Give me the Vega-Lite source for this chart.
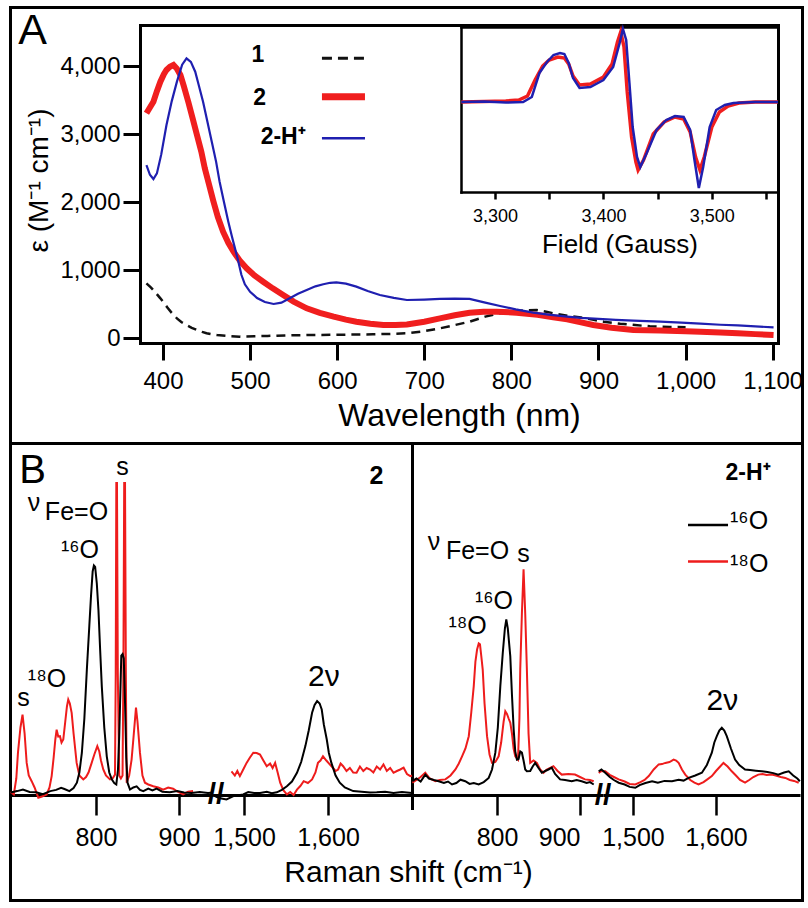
{
"$schema": "https://vega.github.io/schema/vega-lite/v6.json",
"width": 808, "height": 908, "autosize": "none", "padding": 0, "background": "#ffffff",
"config": {
  "view": {"stroke": null},
  "axis": {"grid": false, "labelFont": "Liberation Sans", "titleFont": "Liberation Sans", "labelColor": "#000000", "titleColor": "#000000", "domainColor": "#000000", "tickColor": "#000000", "titleFontWeight": "normal", "labelOverlap": false, "labelFlush": false},
  "text": {"font": "Liberation Sans", "color": "#000000"}
},
"datasets": {
  "uv1": [{"nm":381,"eps":804},{"nm":386,"eps":745},{"nm":390,"eps":690},{"nm":397,"eps":583},{"nm":405,"eps":450},{"nm":410,"eps":370},{"nm":416,"eps":289},{"nm":421,"eps":235},{"nm":427,"eps":190},{"nm":433,"eps":150},{"nm":439,"eps":118},{"nm":445,"eps":90},{"nm":450,"eps":70},{"nm":456,"eps":55},{"nm":462,"eps":44},{"nm":475,"eps":30},{"nm":488,"eps":20},{"nm":505,"eps":25},{"nm":520,"eps":30},{"nm":540,"eps":38},{"nm":565,"eps":44},{"nm":600,"eps":48},{"nm":641,"eps":54},{"nm":660,"eps":60},{"nm":680,"eps":69},{"nm":700,"eps":100},{"nm":718,"eps":142},{"nm":735,"eps":190},{"nm":752,"eps":240},{"nm":770,"eps":314},{"nm":785,"eps":360},{"nm":800,"eps":390},{"nm":815,"eps":405},{"nm":829,"eps":412},{"nm":840,"eps":385},{"nm":852,"eps":353},{"nm":866,"eps":325},{"nm":880,"eps":300},{"nm":893,"eps":270},{"nm":906,"eps":240},{"nm":925,"eps":210},{"nm":942,"eps":190},{"nm":959,"eps":172},{"nm":982,"eps":162},{"nm":1000,"eps":158}],
  "uv2": [{"nm":381,"eps":3304},{"nm":385,"eps":3390},{"nm":389,"eps":3475},{"nm":393,"eps":3630},{"nm":397,"eps":3770},{"nm":401,"eps":3880},{"nm":404,"eps":3941},{"nm":408,"eps":3990},{"nm":412,"eps":4015},{"nm":416,"eps":3960},{"nm":420,"eps":3868},{"nm":424,"eps":3700},{"nm":429,"eps":3475},{"nm":434,"eps":3230},{"nm":439,"eps":2985},{"nm":444,"eps":2740},{"nm":448,"eps":2495},{"nm":453,"eps":2250},{"nm":458,"eps":2005},{"nm":463,"eps":1780},{"nm":469,"eps":1563},{"nm":475,"eps":1400},{"nm":481,"eps":1269},{"nm":488,"eps":1140},{"nm":496,"eps":1025},{"nm":505,"eps":920},{"nm":515,"eps":828},{"nm":526,"eps":730},{"nm":538,"eps":632},{"nm":550,"eps":535},{"nm":565,"eps":436},{"nm":580,"eps":370},{"nm":596,"eps":314},{"nm":610,"eps":270},{"nm":622,"eps":240},{"nm":638,"eps":210},{"nm":653,"eps":191},{"nm":667,"eps":192},{"nm":680,"eps":200},{"nm":700,"eps":240},{"nm":718,"eps":289},{"nm":735,"eps":335},{"nm":752,"eps":370},{"nm":768,"eps":385},{"nm":783,"eps":387},{"nm":806,"eps":372},{"nm":830,"eps":340},{"nm":848,"eps":305},{"nm":864,"eps":275},{"nm":880,"eps":230},{"nm":894,"eps":191},{"nm":915,"eps":150},{"nm":940,"eps":118},{"nm":971,"eps":110},{"nm":1000,"eps":100},{"nm":1017,"eps":93},{"nm":1040,"eps":80},{"nm":1060,"eps":70},{"nm":1080,"eps":57},{"nm":1101,"eps":44}],
  "uv2h": [{"nm":381,"eps":2544},{"nm":385,"eps":2400},{"nm":389,"eps":2338},{"nm":393,"eps":2420},{"nm":398,"eps":2700},{"nm":404,"eps":3132},{"nm":410,"eps":3480},{"nm":416,"eps":3770},{"nm":422,"eps":4020},{"nm":427,"eps":4113},{"nm":432,"eps":4060},{"nm":437,"eps":3916},{"nm":441,"eps":3720},{"nm":446,"eps":3475},{"nm":451,"eps":3180},{"nm":456,"eps":2887},{"nm":461,"eps":2590},{"nm":465,"eps":2299},{"nm":470,"eps":2000},{"nm":475,"eps":1710},{"nm":479,"eps":1500},{"nm":483,"eps":1300},{"nm":486,"eps":1150},{"nm":490,"eps":930},{"nm":494,"eps":790},{"nm":500,"eps":680},{"nm":508,"eps":588},{"nm":517,"eps":530},{"nm":527,"eps":500},{"nm":536,"eps":520},{"nm":546,"eps":588},{"nm":555,"eps":650},{"nm":565,"eps":706},{"nm":575,"eps":760},{"nm":584,"eps":790},{"nm":592,"eps":812},{"nm":599,"eps":819},{"nm":610,"eps":800},{"nm":622,"eps":755},{"nm":635,"eps":690},{"nm":649,"eps":632},{"nm":665,"eps":590},{"nm":680,"eps":559},{"nm":700,"eps":565},{"nm":718,"eps":574},{"nm":735,"eps":580},{"nm":752,"eps":574},{"nm":770,"eps":520},{"nm":787,"eps":471},{"nm":805,"eps":420},{"nm":825,"eps":372},{"nm":845,"eps":340},{"nm":864,"eps":314},{"nm":880,"eps":295},{"nm":900,"eps":280},{"nm":920,"eps":268},{"nm":940,"eps":255},{"nm":971,"eps":240},{"nm":995,"eps":225},{"nm":1017,"eps":210},{"nm":1040,"eps":195},{"nm":1060,"eps":185},{"nm":1080,"eps":170},{"nm":1101,"eps":157}],
  "epr_blue": [{"gauss":3269,"signal":0},{"gauss":3290,"signal":0.5},{"gauss":3310,"signal":-0.5},{"gauss":3326,"signal":0},{"gauss":3334,"signal":5},{"gauss":3341,"signal":29},{"gauss":3348,"signal":40},{"gauss":3354,"signal":47},{"gauss":3360,"signal":49},{"gauss":3364,"signal":48},{"gauss":3368,"signal":39},{"gauss":3372,"signal":24},{"gauss":3378,"signal":14},{"gauss":3388,"signal":15},{"gauss":3400,"signal":22},{"gauss":3409,"signal":35},{"gauss":3415,"signal":59},{"gauss":3418,"signal":73},{"gauss":3421,"signal":62},{"gauss":3424,"signal":19},{"gauss":3427,"signal":-25},{"gauss":3431,"signal":-55},{"gauss":3434,"signal":-65},{"gauss":3440,"signal":-51},{"gauss":3449,"signal":-28},{"gauss":3458,"signal":-18},{"gauss":3466,"signal":-14},{"gauss":3474,"signal":-15},{"gauss":3480,"signal":-28},{"gauss":3484,"signal":-58},{"gauss":3488,"signal":-86},{"gauss":3492,"signal":-65},{"gauss":3498,"signal":-25},{"gauss":3504,"signal":-8},{"gauss":3512,"signal":-3},{"gauss":3520,"signal":-1},{"gauss":3540,"signal":0},{"gauss":3561,"signal":0}],
  "epr_red": [{"gauss":3269,"signal":0},{"gauss":3290,"signal":0.5},{"gauss":3310,"signal":1},{"gauss":3322,"signal":2},{"gauss":3330,"signal":6},{"gauss":3337,"signal":22},{"gauss":3344,"signal":36},{"gauss":3350,"signal":42},{"gauss":3358,"signal":45},{"gauss":3364,"signal":44},{"gauss":3368,"signal":38},{"gauss":3372,"signal":26},{"gauss":3378,"signal":17},{"gauss":3388,"signal":18},{"gauss":3400,"signal":25},{"gauss":3408,"signal":38},{"gauss":3413,"signal":60},{"gauss":3416,"signal":70},{"gauss":3419,"signal":55},{"gauss":3422,"signal":10},{"gauss":3426,"signal":-35},{"gauss":3430,"signal":-60},{"gauss":3432,"signal":-68},{"gauss":3437,"signal":-58},{"gauss":3446,"signal":-32},{"gauss":3456,"signal":-20},{"gauss":3466,"signal":-15},{"gauss":3474,"signal":-17},{"gauss":3480,"signal":-30},{"gauss":3485,"signal":-55},{"gauss":3489,"signal":-68},{"gauss":3493,"signal":-55},{"gauss":3500,"signal":-25},{"gauss":3507,"signal":-10},{"gauss":3515,"signal":-4},{"gauss":3525,"signal":-1},{"gauss":3540,"signal":0},{"gauss":3561,"signal":0}],
  "b2_16_low": [{"shift":697,"intensity":0.3},{"shift":705,"intensity":0.8},{"shift":712,"intensity":1.3},{"shift":720,"intensity":0.5},{"shift":728,"intensity":0.4},{"shift":736,"intensity":-0.2},{"shift":745,"intensity":0.8},{"shift":752,"intensity":1.2},{"shift":758,"intensity":1.9},{"shift":762,"intensity":1.5},{"shift":768,"intensity":0.8},{"shift":773,"intensity":1.8},{"shift":777,"intensity":3.6},{"shift":780,"intensity":7},{"shift":783,"intensity":13.6},{"shift":786,"intensity":25},{"shift":789,"intensity":41.3},{"shift":792,"intensity":56},{"shift":794,"intensity":65.8},{"shift":796,"intensity":74},{"shift":797.5,"intensity":76},{"shift":799,"intensity":75.5},{"shift":801,"intensity":70},{"shift":803,"intensity":61},{"shift":805,"intensity":48},{"shift":807,"intensity":35.8},{"shift":810,"intensity":22},{"shift":813,"intensity":12.4},{"shift":816,"intensity":7},{"shift":819,"intensity":4.7},{"shift":822,"intensity":3.5},{"shift":824.5,"intensity":3},{"shift":826.5,"intensity":8},{"shift":828,"intensity":19.1},{"shift":829.5,"intensity":35},{"shift":830.5,"intensity":46},{"shift":832,"intensity":46.5},{"shift":833.5,"intensity":45},{"shift":835,"intensity":30.2},{"shift":836.5,"intensity":12},{"shift":838,"intensity":3.6},{"shift":841,"intensity":1.3},{"shift":845,"intensity":2},{"shift":849,"intensity":2.4},{"shift":853,"intensity":1.2},{"shift":857,"intensity":0.8},{"shift":863,"intensity":1.6},{"shift":868,"intensity":1},{"shift":873,"intensity":1.6},{"shift":880,"intensity":0.6},{"shift":889,"intensity":0.4},{"shift":898,"intensity":0.8},{"shift":906,"intensity":0.3},{"shift":915,"intensity":0.2},{"shift":925,"intensity":0.5},{"shift":935,"intensity":0.2},{"shift":941,"intensity":0.3}],
  "b2_18_low": [{"shift":697,"intensity":0.5},{"shift":701,"intensity":-0.3},{"shift":704,"intensity":5},{"shift":706,"intensity":13.6},{"shift":709,"intensity":22},{"shift":711.5,"intensity":26.3},{"shift":714,"intensity":20},{"shift":716.5,"intensity":10.2},{"shift":719,"intensity":6},{"shift":722.5,"intensity":4.1},{"shift":726,"intensity":2},{"shift":730.5,"intensity":-1.4},{"shift":735,"intensity":-1},{"shift":740.6,"intensity":-0.3},{"shift":744,"intensity":2},{"shift":746.6,"intensity":5.8},{"shift":749,"intensity":12},{"shift":751,"intensity":18},{"shift":752.6,"intensity":21.3},{"shift":754.5,"intensity":19},{"shift":756.6,"intensity":19.1},{"shift":758.5,"intensity":17},{"shift":760.6,"intensity":18},{"shift":763,"intensity":24},{"shift":765,"intensity":29},{"shift":766.6,"intensity":31.3},{"shift":768.5,"intensity":30},{"shift":770.7,"intensity":26.9},{"shift":773,"intensity":20},{"shift":776.7,"intensity":10.2},{"shift":780,"intensity":6},{"shift":784.7,"intensity":4.7},{"shift":788,"intensity":5.5},{"shift":791,"intensity":7},{"shift":794.8,"intensity":10.2},{"shift":798,"intensity":13},{"shift":801.6,"intensity":15.8},{"shift":804,"intensity":14},{"shift":806,"intensity":11},{"shift":808.8,"intensity":8},{"shift":812,"intensity":6},{"shift":816.9,"intensity":4.7},{"shift":820,"intensity":5},{"shift":822.9,"intensity":6.3},{"shift":823.8,"intensity":40},{"shift":824.5,"intensity":103.5},{"shift":825.3,"intensity":103.5},{"shift":826.3,"intensity":40},{"shift":828,"intensity":6},{"shift":830,"intensity":5},{"shift":832,"intensity":6},{"shift":833,"intensity":40},{"shift":834,"intensity":103.5},{"shift":835,"intensity":103.5},{"shift":836,"intensity":40},{"shift":837,"intensity":3.6},{"shift":840,"intensity":6},{"shift":842.9,"intensity":11.3},{"shift":845,"intensity":18},{"shift":848.2,"intensity":28.6},{"shift":850,"intensity":24},{"shift":853,"intensity":13.6},{"shift":856,"intensity":6},{"shift":859,"intensity":3.6},{"shift":863,"intensity":3},{"shift":869,"intensity":2.4},{"shift":875,"intensity":2},{"shift":881,"intensity":1.3},{"shift":887,"intensity":2},{"shift":893,"intensity":1.6},{"shift":899,"intensity":0.5},{"shift":905,"intensity":-0.3},{"shift":911,"intensity":0.6},{"shift":917,"intensity":0.8}],
  "b2_16_high": [{"shift":1463,"intensity":-0.5},{"shift":1470,"intensity":-1.5},{"shift":1479,"intensity":-2},{"shift":1488,"intensity":-0.8},{"shift":1499,"intensity":-0.3},{"shift":1505,"intensity":0.5},{"shift":1512,"intensity":0.2},{"shift":1519,"intensity":0.2},{"shift":1527,"intensity":0.6},{"shift":1533,"intensity":0.1},{"shift":1539,"intensity":0.4},{"shift":1545,"intensity":1.2},{"shift":1551,"intensity":2.4},{"shift":1557,"intensity":4},{"shift":1563,"intensity":6.9},{"shift":1568,"intensity":10.5},{"shift":1573,"intensity":15.8},{"shift":1577,"intensity":21},{"shift":1581,"intensity":26.9},{"shift":1584,"intensity":29.5},{"shift":1587,"intensity":30.8},{"shift":1590,"intensity":30},{"shift":1592.5,"intensity":28},{"shift":1595,"intensity":23},{"shift":1598.5,"intensity":18},{"shift":1601,"intensity":13.5},{"shift":1604,"intensity":10.2},{"shift":1609,"intensity":6},{"shift":1614,"intensity":3.6},{"shift":1620,"intensity":2},{"shift":1630,"intensity":0.8},{"shift":1640,"intensity":0.6},{"shift":1650,"intensity":0.3},{"shift":1658,"intensity":0.4},{"shift":1668,"intensity":0.6},{"shift":1678,"intensity":0.2},{"shift":1688,"intensity":0.5},{"shift":1700,"intensity":0.2}],
  "b2_18_high": [{"shift":1485,"intensity":7.4},{"shift":1489,"intensity":6},{"shift":1492,"intensity":7.5},{"shift":1495,"intensity":5.8},{"shift":1499,"intensity":8},{"shift":1503,"intensity":10.2},{"shift":1507,"intensity":12},{"shift":1511,"intensity":13.6},{"shift":1515,"intensity":13.5},{"shift":1519,"intensity":13},{"shift":1523,"intensity":11},{"shift":1527,"intensity":9.1},{"shift":1531,"intensity":10},{"shift":1534,"intensity":8.5},{"shift":1537,"intensity":10.2},{"shift":1540,"intensity":7},{"shift":1543,"intensity":3.6},{"shift":1547,"intensity":1},{"shift":1551,"intensity":-0.3},{"shift":1555,"intensity":0.5},{"shift":1559,"intensity":-0.5},{"shift":1563,"intensity":1.3},{"shift":1567,"intensity":2.5},{"shift":1571,"intensity":4.1},{"shift":1576,"intensity":3.5},{"shift":1581,"intensity":4.7},{"shift":1585,"intensity":7},{"shift":1588,"intensity":10.2},{"shift":1591,"intensity":11},{"shift":1594,"intensity":12.4},{"shift":1598,"intensity":11},{"shift":1602,"intensity":9.7},{"shift":1606,"intensity":8.5},{"shift":1609,"intensity":7.5},{"shift":1612,"intensity":8},{"shift":1615,"intensity":10},{"shift":1618,"intensity":9.1},{"shift":1622,"intensity":7.5},{"shift":1626,"intensity":8.5},{"shift":1630,"intensity":7},{"shift":1634,"intensity":6.9},{"shift":1638,"intensity":9},{"shift":1642,"intensity":7.5},{"shift":1646,"intensity":8.5},{"shift":1650,"intensity":8},{"shift":1654,"intensity":7},{"shift":1658,"intensity":9},{"shift":1662,"intensity":8},{"shift":1666,"intensity":9.7},{"shift":1670,"intensity":7.5},{"shift":1674,"intensity":8.5},{"shift":1678,"intensity":6.9},{"shift":1682,"intensity":7.5},{"shift":1686,"intensity":8},{"shift":1690,"intensity":8.6},{"shift":1694,"intensity":6.5},{"shift":1698,"intensity":5.8},{"shift":1700,"intensity":6}],
  "b2h_16_low": [{"shift":698,"intensity":4.1},{"shift":703,"intensity":5},{"shift":708,"intensity":4},{"shift":713.6,"intensity":6.3},{"shift":718,"intensity":5},{"shift":724,"intensity":4.5},{"shift":729.8,"intensity":4.1},{"shift":736,"intensity":3.5},{"shift":741,"intensity":4},{"shift":745.8,"intensity":3},{"shift":751,"intensity":3.5},{"shift":756,"intensity":4.6},{"shift":761.8,"intensity":4.1},{"shift":767,"intensity":3.2},{"shift":772,"intensity":3.5},{"shift":778,"intensity":3},{"shift":784,"intensity":3.8},{"shift":790,"intensity":5.2},{"shift":794,"intensity":8},{"shift":798,"intensity":13.6},{"shift":801,"intensity":22},{"shift":804,"intensity":35.8},{"shift":807,"intensity":47},{"shift":809.5,"intensity":55},{"shift":811.2,"intensity":58},{"shift":813,"intensity":55},{"shift":816,"intensity":45.8},{"shift":818,"intensity":33},{"shift":820.1,"intensity":21.3},{"shift":822,"intensity":14},{"shift":824,"intensity":11.3},{"shift":826,"intensity":11.5},{"shift":828,"intensity":14},{"shift":830,"intensity":13.6},{"shift":832,"intensity":11},{"shift":834,"intensity":8},{"shift":836,"intensity":7.4},{"shift":840,"intensity":7.5},{"shift":843,"intensity":9},{"shift":846,"intensity":10.2},{"shift":850,"intensity":8.5},{"shift":854,"intensity":6.9},{"shift":858,"intensity":7.5},{"shift":862,"intensity":8},{"shift":866,"intensity":8.6},{"shift":870,"intensity":6.5},{"shift":876,"intensity":4.7},{"shift":882,"intensity":4.5},{"shift":890,"intensity":4.1},{"shift":896,"intensity":4.5},{"shift":902,"intensity":4.1},{"shift":908,"intensity":3.5},{"shift":912,"intensity":3.8},{"shift":916.5,"intensity":3}],
  "b2h_18_low": [{"shift":698,"intensity":3.6},{"shift":703,"intensity":4.5},{"shift":708,"intensity":5.5},{"shift":713.6,"intensity":6.9},{"shift":719,"intensity":5},{"shift":725.8,"intensity":4.1},{"shift":731,"intensity":4.5},{"shift":737.8,"intensity":4.7},{"shift":744,"intensity":6},{"shift":749.9,"intensity":8},{"shift":754,"intensity":10},{"shift":757.9,"intensity":12.4},{"shift":762,"intensity":15},{"shift":766,"intensity":19.1},{"shift":769,"intensity":27},{"shift":772,"intensity":35.8},{"shift":774,"intensity":44},{"shift":776,"intensity":48},{"shift":778,"intensity":50},{"shift":779.5,"intensity":49.7},{"shift":781,"intensity":46},{"shift":782.8,"intensity":41.3},{"shift":785,"intensity":30},{"shift":788,"intensity":19.1},{"shift":791,"intensity":13},{"shift":794,"intensity":10.2},{"shift":798,"intensity":10.5},{"shift":802,"intensity":12.4},{"shift":805,"intensity":17},{"shift":808,"intensity":24},{"shift":810,"intensity":27.4},{"shift":812,"intensity":26.5},{"shift":814,"intensity":25},{"shift":816,"intensity":23.6},{"shift":818,"intensity":20},{"shift":820,"intensity":15},{"shift":822,"intensity":12.4},{"shift":825.3,"intensity":11.3},{"shift":827,"intensity":25},{"shift":828,"intensity":41.3},{"shift":830,"intensity":60},{"shift":832,"intensity":74.7},{"shift":834,"intensity":60},{"shift":836,"intensity":41.3},{"shift":838,"intensity":20},{"shift":840,"intensity":10.2},{"shift":844,"intensity":11},{"shift":848,"intensity":10.2},{"shift":852,"intensity":8},{"shift":856,"intensity":6.9},{"shift":860,"intensity":8},{"shift":864,"intensity":8.5},{"shift":868,"intensity":9.1},{"shift":873,"intensity":7.5},{"shift":878,"intensity":6.3},{"shift":886,"intensity":6.5},{"shift":894,"intensity":6.3},{"shift":900,"intensity":5.5},{"shift":906,"intensity":4.7},{"shift":912,"intensity":4.5},{"shift":916.5,"intensity":4.1}],
  "b2h_16_high": [{"shift":1458.7,"intensity":7.4},{"shift":1462,"intensity":8},{"shift":1466.6,"intensity":6.9},{"shift":1472,"intensity":5.5},{"shift":1477,"intensity":4.5},{"shift":1482.8,"intensity":3.6},{"shift":1490,"intensity":3},{"shift":1496,"intensity":2.2},{"shift":1502.8,"intensity":1.9},{"shift":1508,"intensity":2.8},{"shift":1515,"intensity":3.5},{"shift":1523,"intensity":4.1},{"shift":1530,"intensity":3.6},{"shift":1538,"intensity":4.2},{"shift":1547,"intensity":4.1},{"shift":1555,"intensity":4.6},{"shift":1561,"intensity":4.3},{"shift":1567,"intensity":5.2},{"shift":1575,"intensity":6},{"shift":1583,"intensity":6.9},{"shift":1589,"intensity":9.5},{"shift":1595,"intensity":13.6},{"shift":1598,"intensity":17},{"shift":1601,"intensity":19.1},{"shift":1604,"intensity":21},{"shift":1607,"intensity":21.9},{"shift":1610,"intensity":21},{"shift":1613,"intensity":19.1},{"shift":1618,"intensity":15},{"shift":1623,"intensity":11.3},{"shift":1628,"intensity":9.5},{"shift":1635,"intensity":8},{"shift":1641,"intensity":7.8},{"shift":1648,"intensity":7.6},{"shift":1655,"intensity":7.4},{"shift":1662,"intensity":7.2},{"shift":1669,"intensity":6.8},{"shift":1675,"intensity":6.3},{"shift":1682,"intensity":7},{"shift":1687.6,"intensity":7.4},{"shift":1693,"intensity":6},{"shift":1698,"intensity":5},{"shift":1701,"intensity":4.1}],
  "b2h_18_high": [{"shift":1458.7,"intensity":6.9},{"shift":1462,"intensity":7.5},{"shift":1466.6,"intensity":7.4},{"shift":1472,"intensity":6.2},{"shift":1477,"intensity":5.5},{"shift":1482.8,"intensity":4.7},{"shift":1490,"intensity":4},{"shift":1496,"intensity":3.2},{"shift":1502.8,"intensity":3},{"shift":1509,"intensity":3.8},{"shift":1514,"intensity":4.5},{"shift":1519,"intensity":5.8},{"shift":1525,"intensity":8},{"shift":1531,"intensity":9.7},{"shift":1535,"intensity":9.8},{"shift":1539,"intensity":10.2},{"shift":1544,"intensity":10.5},{"shift":1549,"intensity":11.3},{"shift":1552,"intensity":11},{"shift":1555,"intensity":10.2},{"shift":1559,"intensity":8},{"shift":1563,"intensity":6.3},{"shift":1569,"intensity":4.5},{"shift":1574,"intensity":3.6},{"shift":1579,"intensity":3},{"shift":1585,"intensity":3.8},{"shift":1590,"intensity":4.8},{"shift":1595,"intensity":5.8},{"shift":1600,"intensity":7.5},{"shift":1605,"intensity":9},{"shift":1609,"intensity":10.2},{"shift":1614,"intensity":9},{"shift":1619,"intensity":7.4},{"shift":1624,"intensity":6},{"shift":1629,"intensity":4.5},{"shift":1635,"intensity":3.6},{"shift":1640,"intensity":4.5},{"shift":1645,"intensity":5.5},{"shift":1651,"intensity":6.3},{"shift":1656,"intensity":6.5},{"shift":1661,"intensity":6.2},{"shift":1667,"intensity":6.3},{"shift":1672,"intensity":6},{"shift":1678,"intensity":5.5},{"shift":1683.5,"intensity":5.2},{"shift":1689,"intensity":4.5},{"shift":1694,"intensity":4.2},{"shift":1699.6,"intensity":3.6}]
},
"layer": [
  {"data": {"values": []}, "mark": {"type": "point", "opacity": 0},
   "encoding": {
     "x": {"field": "fx", "type": "quantitative", "scale": {"domain": [0, 1], "range": [10, 802], "nice": false, "zero": false}, "axis": {"orient": "bottom", "offset": -8, "ticks": false, "labels": false, "title": null, "domainWidth": 3, "domainCap": "square"}},
     "y": {"field": "fy", "type": "quantitative", "scale": {"domain": [0, 1], "range": [900, 7], "nice": false, "zero": false}, "axis": {"orient": "left", "offset": -10, "ticks": false, "labels": false, "title": null, "domainWidth": 3, "domainCap": "square"}}}},
  {"data": {"values": []}, "mark": {"type": "point", "opacity": 0},
   "encoding": {
     "x": {"field": "fx", "type": "quantitative", "scale": {"domain": [0, 1], "range": [10, 802], "nice": false, "zero": false}, "axis": {"orient": "top", "offset": -7, "ticks": false, "labels": false, "domainWidth": 3, "domainCap": "square", "title": "A", "titleFontSize": 43, "titleX": 32, "titleY": 36, "titleAlign": "center", "titleBaseline": "alphabetic", "titleAngle": 0}},
     "y": {"field": "fy", "type": "quantitative", "scale": {"domain": [0, 1], "range": [900, 7], "nice": false, "zero": false}, "axis": {"orient": "right", "offset": -6, "ticks": false, "labels": false, "title": null, "domainWidth": 3, "domainCap": "square"}}}},
  {"data": {"values": []}, "mark": {"type": "point", "opacity": 0},
   "encoding": {
     "x": {"field": "fx", "type": "quantitative", "scale": {"domain": [0, 1], "range": [10, 802], "nice": false, "zero": false}, "axis": {"orient": "top", "offset": -443, "ticks": false, "labels": false, "domainWidth": 3, "domainCap": "square", "title": "B", "titleFontSize": 40, "titleX": 32, "titleY": 39, "titleAlign": "center", "titleBaseline": "alphabetic", "titleAngle": 0}},
     "y": {"field": "fy", "type": "quantitative", "scale": {"domain": [0, 1], "range": [808, 443], "nice": false, "zero": false}, "axis": {"orient": "left", "offset": -412, "ticks": false, "labels": false, "title": null, "domainWidth": 3, "domainCap": "square"}}}},
  {"encoding": {
     "x": {"field": "nm", "type": "quantitative", "scale": {"domain": [373.6, 1106.1], "range": [140, 778], "nice": false, "zero": false},
           "axis": {"orient": "bottom", "offset": -565, "values": [400, 500, 600, 700, 800, 900, 1000, 1100], "labelExpr": "format(datum.value, ',')", "tickSize": 17, "tickWidth": 3, "domainWidth": 3, "domainCap": "square", "labelFontSize": 24, "labelPadding": 9, "title": "Wavelength (nm)", "titleFontSize": 32, "titleX": 459, "titleY": 82, "titleAlign": "center", "titleBaseline": "alphabetic"}},
     "y": {"field": "eps", "type": "quantitative", "scale": {"domain": [-73.5, 4603], "range": [343, 25], "nice": false, "zero": false},
           "axis": {"orient": "left", "offset": -140, "values": [0, 1000, 2000, 3000, 4000], "labelExpr": "format(datum.value, ',')", "tickSize": 17, "tickWidth": 3, "domainWidth": 3, "domainCap": "square", "labelFontSize": 24, "labelPadding": 3, "title": "ε (M⁻¹ cm⁻¹)", "titleFontSize": 28, "titleAngle": -90, "titleX": -93, "titleY": 180, "titleAlign": "center", "titleBaseline": "alphabetic"}}},
   "layer": [
     {"data": {"name": "uv1"}, "mark": {"type": "line", "color": "#111111", "strokeWidth": 2.5, "strokeDash": [9, 6]}},
     {"data": {"name": "uv2"}, "mark": {"type": "line", "color": "#f01e1e", "strokeWidth": 6}},
     {"data": {"name": "uv2h"}, "mark": {"type": "line", "color": "#1f1fb0", "strokeWidth": 2.2}},
     {"data": {"values": [{"t": "1", "nm": 509, "eps": 4162}, {"t": "2", "nm": 511, "eps": 3525}, {"t": "2-H⁺", "nm": 538, "eps": 2949}]},
      "mark": {"type": "text", "fontSize": 23, "fontWeight": "bold", "align": "center", "baseline": "middle"}, "encoding": {"text": {"field": "t"}}},
     {"data": {"values": [{"nm": 582.5, "nm_end": 631.9, "eps": 4113}]}, "mark": {"type": "rule", "color": "#111111", "strokeWidth": 3, "strokeDash": [10, 6]}, "encoding": {"x2": {"field": "nm_end"}}},
     {"data": {"values": [{"nm": 582.5, "nm_end": 631.9, "eps": 3549}]}, "mark": {"type": "rule", "color": "#f01e1e", "strokeWidth": 7}, "encoding": {"x2": {"field": "nm_end"}}},
     {"data": {"values": [{"nm": 582.5, "nm_end": 631.9, "eps": 2937}]}, "mark": {"type": "rule", "color": "#1f1fb0", "strokeWidth": 2.5}, "encoding": {"x2": {"field": "nm_end"}}}
   ]},
  {"data": {"values": []}, "mark": {"type": "point", "opacity": 0},
   "encoding": {
     "x": {"field": "nm", "type": "quantitative", "scale": {"domain": [373.6, 1106.1], "range": [140, 778], "nice": false, "zero": false}, "axis": {"orient": "top", "offset": -25, "ticks": false, "labels": false, "title": null, "domainWidth": 3, "domainCap": "square"}},
     "y": {"field": "eps", "type": "quantitative", "scale": {"domain": [-73.5, 4603], "range": [343, 25], "nice": false, "zero": false}, "axis": {"orient": "right", "offset": -30, "ticks": false, "labels": false, "title": null, "domainWidth": 3, "domainCap": "square"}}}},
  {"encoding": {
     "x": {"field": "gauss", "type": "quantitative", "scale": {"domain": [3268.7, 3561], "range": [461, 778], "nice": false, "zero": false},
           "axis": {"orient": "bottom", "offset": -716, "values": [3300, 3350, 3400, 3450, 3500, 3550], "labelExpr": "datum.value % 100 === 0 ? format(datum.value, ',') : ''", "tickSize": 7, "tickWidth": 2.5, "domainWidth": 2.5, "domainCap": "square", "labelFontSize": 18, "labelPadding": 8, "title": "Field (Gauss)", "titleFontSize": 26, "titleX": 619.5, "titleY": 60, "titleAlign": "center", "titleBaseline": "alphabetic"}},
     "y": {"field": "signal", "type": "quantitative", "scale": {"domain": [-90, 75], "range": [192, 27], "nice": false, "zero": false},
           "axis": {"orient": "left", "offset": -461, "ticks": false, "labels": false, "title": null, "domainWidth": 2.5, "domainCap": "square"}}},
   "layer": [
     {"data": {"name": "epr_red"}, "mark": {"type": "line", "color": "#f01e1e", "strokeWidth": 3.5}},
     {"data": {"name": "epr_blue"}, "mark": {"type": "line", "color": "#1f1fb0", "strokeWidth": 2.5}}
   ]},
  {"data": {"values": []}, "mark": {"type": "point", "opacity": 0},
   "encoding": {
     "x": {"field": "gauss", "type": "quantitative", "scale": {"domain": [3268.7, 3561], "range": [461, 778], "nice": false, "zero": false}, "axis": {"orient": "top", "offset": -27, "ticks": false, "labels": false, "title": null, "domainWidth": 2.5, "domainCap": "square"}},
     "y": {"field": "signal", "type": "quantitative", "scale": {"domain": [-90, 75], "range": [192, 27], "nice": false, "zero": false}, "axis": {"orient": "right", "offset": -30, "ticks": false, "labels": false, "title": null, "domainWidth": 2.5, "domainCap": "square"}}}},
  {"encoding": {
     "x": {"field": "shift", "type": "quantitative", "scale": {"domain": [696.4, 941], "range": [10, 213], "nice": false, "zero": false},
           "axis": {"orient": "bottom", "offset": -113, "values": [800, 900], "labelExpr": "format(datum.value, ',')", "tickSize": 20, "tickWidth": 2.5, "domainWidth": 3, "labelFontSize": 25, "labelPadding": 10, "title": null}},
     "y": {"field": "intensity", "type": "quantitative", "scale": {"domain": [-0.5, 103.5], "range": [795, 483], "nice": false, "zero": false}, "axis": null}},
   "layer": [
     {"data": {"name": "b2_18_low"}, "mark": {"type": "line", "color": "#ee1c1c", "strokeWidth": 2}},
     {"data": {"name": "b2_16_low"}, "mark": {"type": "line", "color": "#000000", "strokeWidth": 2}},
     {"data": {"values": [{"t": "s", "shift": 832, "intensity": 108.7}, {"t": "s", "shift": 712.7, "intensity": 32}, {"t": "¹⁸O", "shift": 741, "intensity": 38.2}, {"t": "¹⁶O", "shift": 780.7, "intensity": 81.3}, {"t": "Fe=O", "shift": 776.5, "intensity": 94}, {"t": "ν", "shift": 725.3, "intensity": 96.7}]},
      "mark": {"type": "text", "fontSize": 25, "align": "center", "baseline": "middle"}, "encoding": {"text": {"field": "t"}}}
   ]},
  {"encoding": {
     "x": {"field": "shift", "type": "quantitative", "scale": {"domain": [1463, 1700], "range": [213, 412], "nice": false, "zero": false},
           "axis": {"orient": "bottom", "offset": -113, "values": [1500, 1600], "labelExpr": "format(datum.value, ',')", "tickSize": 20, "tickWidth": 2.5, "domainWidth": 3, "labelFontSize": 25, "labelPadding": 10, "title": "Raman shift (cm⁻¹)", "titleFontSize": 30, "titleX": 408, "titleY": 86, "titleAlign": "center", "titleBaseline": "alphabetic"}},
     "y": {"field": "intensity", "type": "quantitative", "scale": {"domain": [-0.5, 103.5], "range": [795, 483], "nice": false, "zero": false}, "axis": null}},
   "layer": [
     {"data": {"name": "b2_18_high"}, "mark": {"type": "line", "color": "#ee1c1c", "strokeWidth": 2}},
     {"data": {"name": "b2_16_high"}, "mark": {"type": "line", "color": "#000000", "strokeWidth": 2}},
     {"data": {"values": [{"t": "2ν", "shift": 1595, "intensity": 38.8}]}, "mark": {"type": "text", "fontSize": 30, "align": "center", "baseline": "middle"}, "encoding": {"text": {"field": "t"}}},
     {"data": {"values": [{"t": "2", "shift": 1657.6, "intensity": 105.8}]}, "mark": {"type": "text", "fontSize": 25, "fontWeight": "bold", "align": "center", "baseline": "middle"}, "encoding": {"text": {"field": "t"}}},
     {"data": {"values": [{"t": "//", "shift": 1466.6, "intensity": -0.5}]}, "mark": {"type": "text", "fontSize": 30, "fontWeight": "bold", "align": "center", "baseline": "middle"}, "encoding": {"text": {"field": "t"}}}
   ]},
  {"encoding": {
     "x": {"field": "shift", "type": "quantitative", "scale": {"domain": [697.6, 927.7], "range": [412, 603], "nice": false, "zero": false},
           "axis": {"orient": "bottom", "offset": -113, "values": [800, 900], "labelExpr": "format(datum.value, ',')", "labelAlign": {"condition": {"test": "datum.value === 900", "value": "right"}, "value": "center"}, "tickSize": 20, "tickWidth": 2.5, "domainWidth": 3, "labelFontSize": 25, "labelPadding": 10, "title": null}},
     "y": {"field": "intensity", "type": "quantitative", "scale": {"domain": [-0.5, 103.5], "range": [795, 483], "nice": false, "zero": false}, "axis": null}},
   "layer": [
     {"data": {"name": "b2h_18_low"}, "mark": {"type": "line", "color": "#ee1c1c", "strokeWidth": 2}},
     {"data": {"name": "b2h_16_low"}, "mark": {"type": "line", "color": "#000000", "strokeWidth": 2}},
     {"data": {"values": [{"t": "ν", "shift": 724.1, "intensity": 83.7}, {"t": "Fe=O", "shift": 776.5, "intensity": 80.7}, {"t": "s", "shift": 831.9, "intensity": 80}, {"t": "¹⁶O", "shift": 796.4, "intensity": 64.2}, {"t": "¹⁸O", "shift": 764.5, "intensity": 55.8}]},
      "mark": {"type": "text", "fontSize": 25, "align": "center", "baseline": "middle"}, "encoding": {"text": {"field": "t"}}}
   ]},
  {"encoding": {
     "x": {"field": "shift", "type": "quantitative", "scale": {"domain": [1463.9, 1701.2], "range": [603, 800], "nice": false, "zero": false},
           "axis": {"orient": "bottom", "offset": -113, "values": [1500, 1600], "labelExpr": "format(datum.value, ',')", "tickSize": 20, "tickWidth": 2.5, "domainWidth": 3, "labelFontSize": 25, "labelPadding": 10, "title": null}},
     "y": {"field": "intensity", "type": "quantitative", "scale": {"domain": [-0.5, 103.5], "range": [795, 483], "nice": false, "zero": false}, "axis": null}},
   "layer": [
     {"data": {"name": "b2h_18_high"}, "mark": {"type": "line", "color": "#ee1c1c", "strokeWidth": 2}},
     {"data": {"name": "b2h_16_high"}, "mark": {"type": "line", "color": "#000000", "strokeWidth": 2}},
     {"data": {"values": [{"t": "2ν", "shift": 1607.8, "intensity": 30.7}]}, "mark": {"type": "text", "fontSize": 30, "align": "center", "baseline": "middle"}, "encoding": {"text": {"field": "t"}}},
     {"data": {"values": [{"t": "2-H⁺", "shift": 1638.6, "intensity": 107}]}, "mark": {"type": "text", "fontSize": 23, "fontWeight": "bold", "align": "center", "baseline": "middle"}, "encoding": {"text": {"field": "t"}}},
     {"data": {"values": [{"shift": 1566.3, "shift_end": 1614.5, "intensity": 89.5}]}, "mark": {"type": "rule", "color": "#000000", "strokeWidth": 2.5}, "encoding": {"x2": {"field": "shift_end"}}},
     {"data": {"values": [{"shift": 1566.3, "shift_end": 1614.5, "intensity": 77.3}]}, "mark": {"type": "rule", "color": "#ee1c1c", "strokeWidth": 2.5}, "encoding": {"x2": {"field": "shift_end"}}},
     {"data": {"values": [{"t": "¹⁶O", "shift": 1616.9, "intensity": 90.8}, {"t": "¹⁸O", "shift": 1616.9, "intensity": 76.5}]}, "mark": {"type": "text", "fontSize": 25, "align": "left", "baseline": "middle"}, "encoding": {"text": {"field": "t"}}},
     {"data": {"values": [{"t": "//", "shift": 1463.9, "intensity": -0.8}]}, "mark": {"type": "text", "fontSize": 30, "fontWeight": "bold", "align": "center", "baseline": "middle"}, "encoding": {"text": {"field": "t"}}}
   ]}
],
"resolve": {"scale": {"x": "independent", "y": "independent"}, "axis": {"x": "independent", "y": "independent"}}
}
